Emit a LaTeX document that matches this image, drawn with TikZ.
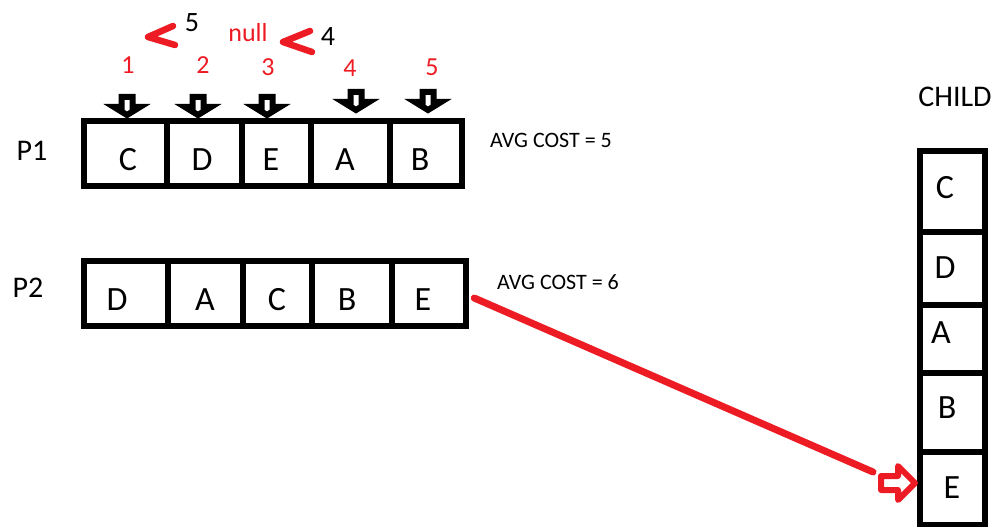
\documentclass[tikz,border=0pt]{standalone}
\usepackage{fontspec}
\setmainfont{Carlito}
\definecolor{pred}{RGB}{237,28,36}
\begin{document}
\begin{tikzpicture}[x=1pt,y=-1pt,
  cellbox/.style={draw=black, line width=6.5pt, inner sep=0pt, fill=white},
  letter/.style={inner sep=0pt, font=\fontsize{34}{38}\selectfont},
  lbl/.style={inner sep=0pt, font=\fontsize{30}{36}\selectfont},
  cost/.style={inner sep=0pt, font=\fontsize{22}{26}\selectfont},
  rednum/.style={inner sep=0pt, text=pred, font=\fontsize{26}{30}\selectfont},
  blacknum/.style={inner sep=0pt, font=\fontsize{28}{32}\selectfont},
  chev/.style={draw=pred, line width=6.5pt, line cap=round, line join=round},
  darrow/.pic={\draw[line width=6pt, fill=white] (-5.5,0) -- (5.5,0) -- (5.5,10) -- (13,10) -- (0,18) -- (-13,10) -- (-5.5,10) -- cycle;},
  rarrow/.pic={\draw[draw=pred, line width=6pt, line join=round, fill=white] (0,-7) -- (17,-7) -- (17,-17) -- (34,0) -- (17,17) -- (17,7) -- (0,7) -- cycle;}
]
\useasboundingbox (0,0) rectangle (1002,527);

% P1 row: boundaries x 84,167,242,311,390,462 ; y 121,186
\node[cellbox, minimum width=83, minimum height=65] (p1a) at (125.5,153.5) {};
\node[cellbox, minimum width=75, minimum height=65] (p1b) at (204.5,153.5) {};
\node[cellbox, minimum width=69, minimum height=65] (p1c) at (276.5,153.5) {};
\node[cellbox, minimum width=79, minimum height=65] (p1d) at (350.5,153.5) {};
\node[cellbox, minimum width=72, minimum height=65] (p1e) at (426,153.5) {};
\node[letter] (p1ta) at (128,160) {C};
\node[letter] (p1tb) at (202,160) {D};
\node[letter] (p1tc) at (271,160) {E};
\node[letter] (p1td) at (345,160) {A};
\node[letter] (p1te) at (420,160) {B};
\node[lbl] (p1lbl) at (32,151) {P1};
\node[cost, anchor=west] (cost1) at (490,140.5) {AVG COST = 5};

% P2 row: boundaries x 84,168,243,312,392,466 ; y 261,326
\node[cellbox, minimum width=84, minimum height=65] (p2a) at (126,293.5) {};
\node[cellbox, minimum width=75, minimum height=65] (p2b) at (205.5,293.5) {};
\node[cellbox, minimum width=69, minimum height=65] (p2c) at (277.5,293.5) {};
\node[cellbox, minimum width=80, minimum height=65] (p2d) at (352,293.5) {};
\node[cellbox, minimum width=74, minimum height=65] (p2e) at (429,293.5) {};
\node[letter] (p2ta) at (117,300) {D};
\node[letter] (p2tb) at (205,300) {A};
\node[letter] (p2tc) at (277,300) {C};
\node[letter] (p2td) at (347,300) {B};
\node[letter] (p2te) at (423,300) {E};
\node[lbl] (p2lbl) at (28,288) {P2};
\node[cost, anchor=west] (cost2) at (497,282) {AVG COST = 6};

% CHILD column: x 920,985 ; y 151,232,305,373,452,525
\node[cellbox, minimum width=65, minimum height=81] (ca) at (952.5,191.5) {};
\node[cellbox, minimum width=65, minimum height=73] (cb) at (952.5,268.5) {};
\node[cellbox, minimum width=65, minimum height=68] (cc) at (952.5,339) {};
\node[cellbox, minimum width=65, minimum height=79] (cd) at (952.5,412.5) {};
\node[cellbox, minimum width=65, minimum height=73] (ce) at (952.5,488.5) {};
\node[letter] (cta) at (945,188) {C};
\node[letter] (ctb) at (945,268) {D};
\node[letter] (ctc) at (941,333) {A};
\node[letter] (ctd) at (947,408) {B};
\node[letter] (cte) at (952,488) {E};
\node[lbl] (childlbl) at (955,97) {CHILD};

% pointer arrows above P1
\pic at (127,97) {darrow};
\pic at (198,97) {darrow};
\pic at (267,97) {darrow};
\pic at (356,92) {darrow};
\pic at (428,92) {darrow};

% numbers
\node[rednum] (n1) at (128,65) {1};
\node[rednum] (n2) at (203,65) {2};
\node[rednum] (n3) at (268,67) {3};
\node[rednum] (n4) at (350,68) {4};
\node[rednum] (n5) at (432,67) {5};
\node[rednum] (nnull) at (248,33) {null};
\node[blacknum] (b5) at (192,23) {5};
\node[blacknum] (b4) at (328,37) {4};
\draw[chev] (173,26) -- (148,37) -- (175,45);
\draw[chev] (310,31) -- (283,42) -- (312,52);

% red connector and block arrow
\coordinate (redend) at (873,472);
\draw[pred, line width=7pt, line cap=round] ([shift={(5,4.5)}]p2e.east) -- (redend);
\pic at (881,483) {rarrow};
\end{tikzpicture}
\end{document}
